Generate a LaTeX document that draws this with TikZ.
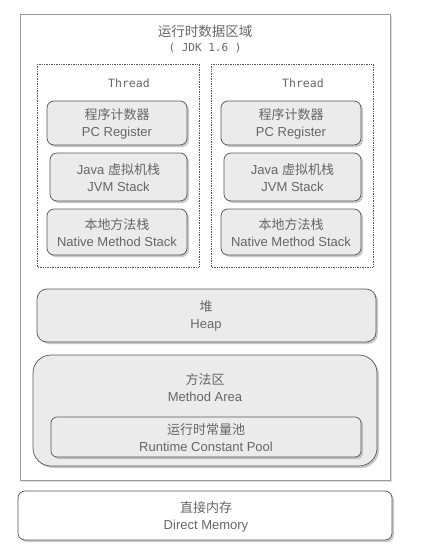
\documentclass[tikz,border=0pt]{standalone}
\usepackage{fontspec}
\setmainfont{Liberation Sans}
\setmonofont{DejaVu Sans Mono}
\newfontfamily\cjk{Noto Sans CJK SC}
\usetikzlibrary{shadows}
\definecolor{txt}{HTML}{666666}
\definecolor{boxfill}{HTML}{EBEBEB}
\definecolor{boxline}{HTML}{555555}
\tikzset{
  x=1pt, y=-1pt,
  shd/.style={drop shadow={shadow xshift=2pt, shadow yshift=-2pt, fill=black!35, opacity=0.6}},
  membox/.style={draw=boxline, fill=boxfill, rounded corners=7pt, line width=0.7pt, shd},
  lbl/.style={text=txt, align=center, font=\fontsize{13}{17}\selectfont},
  threadbox/.style={draw=boxline, densely dotted, line width=0.7pt},
}
\begin{document}
\begin{tikzpicture}
\useasboundingbox (0,0) rectangle (421,555);
% outer region
\draw[draw=black!40, fill=white, line width=0.8pt, drop shadow={shadow xshift=2pt, shadow yshift=-2pt, fill=black!25}] (20,14) rectangle (390,480);
\node[lbl] (title) at (205,39) {{\cjk\fontsize{13.5}{17}\selectfont 运行时数据区域}\\[-2pt]{\ttfamily\fontsize{11}{13}\selectfont ( JDK 1.6 )}};
% thread boxes
\foreach \xo/\nm in {0/a,174/b}{
  \draw[threadbox] (37+\xo,64) rectangle (199+\xo,267);
  \node[text=txt, font=\ttfamily\fontsize{11.5}{13}\selectfont] (thr\nm) at (129+\xo,83) {Thread};
  \draw[membox] (47+\xo,101) rectangle (187+\xo,145);
  \node[lbl] (pc\nm) at (117+\xo,124) {{\cjk 程序计数器}\\PC Register};
  \draw[membox] (50+\xo,153) rectangle (187+\xo,201);
  \node[lbl] (jvm\nm) at (118.5+\xo,178) {Java {\cjk 虚拟机栈}\\JVM Stack};
  \draw[membox] (47+\xo,209) rectangle (187+\xo,255);
  \node[lbl] (nat\nm) at (117+\xo,233) {{\cjk 本地方法栈}\\Native Method Stack};
}
% heap
\draw[membox, rounded corners=10pt] (37,289) rectangle (376,342);
\node[lbl] (heap) at (206,316) {{\cjk 堆}\\Heap};
% method area
\draw[membox, rounded corners=18pt] (33,355) rectangle (377,466);
\node[lbl] (ma) at (205,388) {{\cjk 方法区}\\Method Area};
\draw[membox, rounded corners=6pt] (51,417) rectangle (361,457);
\node[lbl] (rcp) at (206,438) {{\cjk 运行时常量池}\\Runtime Constant Pool};
% direct memory
\draw[draw=boxline, fill=white, rounded corners=7pt, line width=0.7pt, shd] (18,491) rectangle (392,540);
\node[lbl] (dm) at (206,517) {{\cjk 直接内存}\\Direct Memory};
\end{tikzpicture}
\end{document}
